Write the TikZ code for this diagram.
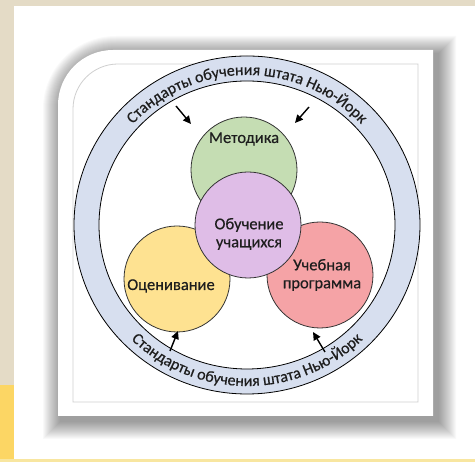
\documentclass[tikz,border=0pt]{standalone}
\usepackage{fontspec}
\setmainfont{Carlito}
\newfontfamily\semib{Carlito}[FakeBold=0.45]
\usetikzlibrary{arrows.meta,decorations.text}
\definecolor{bgbeige}{HTML}{E4DBC6}
\definecolor{bgyellow}{HTML}{FCD664}
\definecolor{lineyellow}{HTML}{F8E6A0}
\definecolor{ringfill}{HTML}{D7DFEF}
\definecolor{cgreen}{HTML}{C5DDB3}
\definecolor{cpurple}{HTML}{DFBDE7}
\definecolor{cyellow}{HTML}{FEE291}
\definecolor{cpink}{HTML}{F5A3A6}
\definecolor{edge}{HTML}{333333}
\definecolor{txt}{HTML}{1E1E1E}
\definecolor{innerline}{HTML}{CFCFCF}
\newcommand\myringfont{\semib\fontsize{16}{18}\selectfont}
\begin{document}
\begin{tikzpicture}[x=1pt,y=1pt,
  circ/.style={circle, draw=edge, line width=0.8pt, minimum size=106pt, inner sep=0pt},
  lbl/.style={font=\semib\fontsize{16.5}{18}\selectfont, text=txt, align=center, inner sep=0pt},
  arr/.style={line width=1.4pt, -{Triangle[length=8pt,width=7.5pt]}},
  ringtext/.style={decorate, decoration={text along path, text align=center, text color=txt, text={|\myringfont|#1}}}]
\useasboundingbox (0,0) rectangle (475,462);
% background
\fill[bgbeige] (0,0) rectangle (475,462);
\fill[bgyellow] (0,0) rectangle (14,77);
\fill[lineyellow] (0,0) rectangle (475,3);
\fill[white] (14,3) rectangle (475,456);
% frame shadow
\foreach \d in {1,...,18}{
  \fill[black, opacity=0.022] (61-\d,41-\d) -- (61-\d,353) arc[start angle=180, end angle=90, radius=55+\d] -- (438+\d,408+\d) -- (438+\d,41-\d) -- cycle;
}
% frame
\fill[white] (58,46) -- (58,357) arc[start angle=180, end angle=90, radius=55] -- (433,412) -- (433,46) -- cycle;
\draw[innerline, line width=0.8pt] (73,60) -- (73,353) arc[start angle=180, end angle=90, radius=45] -- (418,398) -- (418,60) -- cycle;
% ring
\path[fill=ringfill, even odd rule] (247,237) ellipse [x radius=173, y radius=169] (247,237) ellipse [x radius=148, y radius=144];
\draw[black, line width=0.8pt] (247,237) ellipse [x radius=173, y radius=169];
\draw[black, line width=0.8pt] (247,237) ellipse [x radius=148, y radius=144];
\path[ringtext={Стандарты обучения штата Нью-Йорк}] (247,237) ++(165:154 and 150) arc[start angle=165, end angle=15, x radius=154, y radius=150];
\path[ringtext={Стандарты обучения штата Нью-Йорк}] (247,237) ++(195:165 and 161) arc[start angle=195, end angle=345, x radius=165, y radius=161];
% circles
\node[circ, fill=cgreen] (met) at (244,292) {};
\node[circ, fill=cyellow] (ots) at (177,183) {};
\node[circ, fill=cpink] (prg) at (320,187) {};
\node[circ, fill=cpurple] (obu) at (248,237) {};
\node[lbl] (metl) at (244,323) {Методика};
\node[lbl] (obul) at (249,228) {Обучение\\учащихся};
\node[lbl] (otsl) at (171,176) {Оценивание};
\node[lbl] (prgl) at (322,187) {Учебная\\программа};
% arrows
\coordinate (a1s) at (176,356);
\coordinate (a1e) at (191,338);
\coordinate (a2s) at (309,355);
\coordinate (a2e) at (295,339);
\coordinate (a3s) at (170,111);
\coordinate (a3e) at (178,131);
\coordinate (a4s) at (325,110);
\coordinate (a4e) at (313,130);
\draw[arr] (a1s) -- (a1e);
\draw[arr] (a2s) -- (a2e);
\draw[arr] (a3s) -- (a3e);
\draw[arr] (a4s) -- (a4e);
\end{tikzpicture}
\end{document}
